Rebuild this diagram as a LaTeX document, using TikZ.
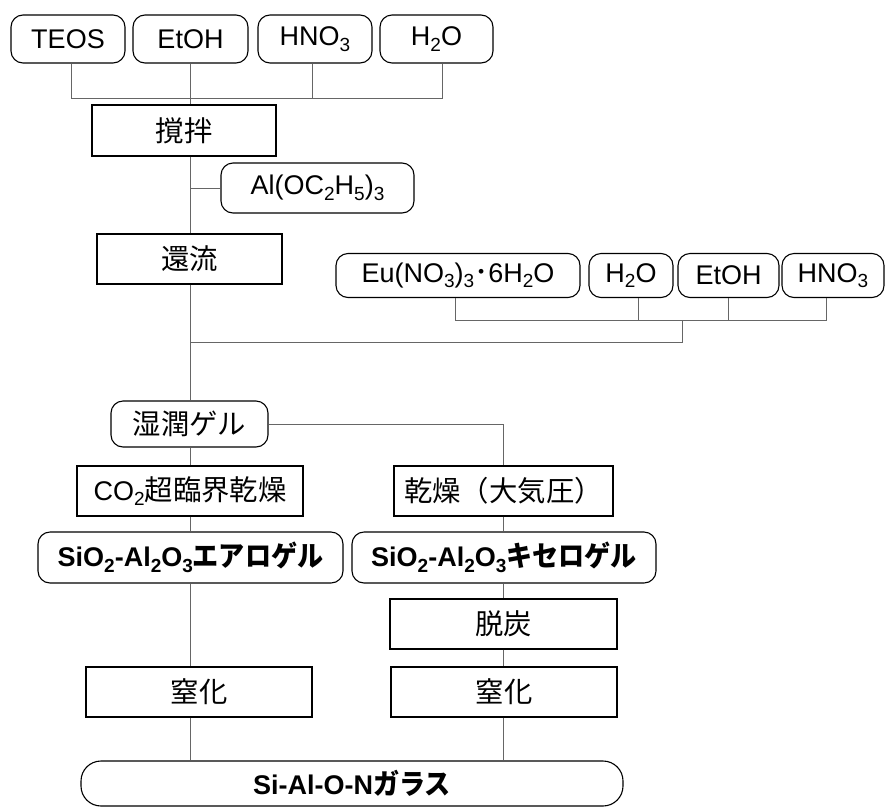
\documentclass[tikz,border=0pt]{standalone}
\usepackage{fontspec}
\usepackage{graphicx}
\setmainfont{Liberation Sans}
\newfontfamily\cjk[Scale=1.05]{Noto Sans CJK JP}
\newcommand\sbs[1]{\raisebox{-0.2em}{\fontsize{19}{19}\selectfont #1}}
\newcommand\kana[1]{\scalebox{0.92}[1]{\cjk #1}}
\begin{document}
\begin{tikzpicture}[x=1pt,y=-1pt,
  font=\fontsize{27}{31}\selectfont,
  box/.style={draw, line width=1.1pt, inner sep=0pt, text=black},
  rbox/.style={box, rounded corners=12pt},
  conn/.style={draw=black!60, line width=0.9pt},
  sz/.style 2 args={minimum width=#1pt, minimum height=#2pt}]
\useasboundingbox (0,0) rectangle (885,809);
% top row
\node[rbox, sz={114}{48}] (teos) at (68,39) {TEOS};
\node[rbox, sz={115}{48}] (etoh) at (190.5,39) {EtOH};
\node[rbox, sz={114}{48}] (hno) at (315,39) {HNO\sbs{3}};
\node[rbox, sz={113}{48}] (hto) at (436.5,39) {H\sbs{2}O};
\coordinate (bar1) at (0,98);
\path ([xshift=3pt]teos.south) coordinate (d1) ([xshift=-0.5pt]etoh.south) coordinate (d2)
      ([xshift=-3pt]hno.south) coordinate (d3) ([xshift=5.5pt]hto.south) coordinate (d4);
\node[box, sz={184}{51}] (stir) at (184,130.5) {\cjk 撹拌};
\node[rbox, sz={193}{50}] (al) at (317.5,188) {Al(OC\sbs{2}H\sbs{5})\sbs{3}};
\node[box, sz={185}{50}] (reflux) at (189.5,259) {\cjk 還流};
\draw[conn] (d1) -- (d1 |- bar1) -- (d4 |- bar1) -- (d4);
\draw[conn] (d3) -- (d3 |- bar1);
\draw[conn] (d2) -- (d2 |- stir.north);
\draw[conn] (d2 |- stir.south) -- (d2 |- reflux.north);
\draw[conn] (al.west) -- (d2 |- al.west);
% second additions
\node[rbox, sz={244}{44}] (eu) at (458,275.5) {Eu(NO\sbs{3})\sbs{3}{\cjk ･}6H\sbs{2}O};
\node[rbox, sz={84}{44}] (hto2) at (631,275.5) {H\sbs{2}O};
\node[rbox, sz={101}{44}] (etoh2) at (728.5,275.5) {EtOH};
\node[rbox, sz={102}{44}] (hno2) at (833,275.5) {HNO\sbs{3}};
\coordinate (bar2) at (0,320);
\coordinate (main2) at (0,342);
\coordinate (j2) at (682,320);
\path ([xshift=-3pt]eu.south) coordinate (e1) ([xshift=7pt]hto2.south) coordinate (e2)
      ([xshift=-0.5pt]etoh2.south) coordinate (e3) ([xshift=-7pt]hno2.south) coordinate (e4);
\draw[conn] (e1) -- (e1 |- bar2) -- (e4 |- bar2) -- (e4);
\draw[conn] (e2) -- (e2 |- bar2);
\draw[conn] (e3) -- (e3 |- bar2);
\draw[conn] (j2) -- (j2 |- main2) -- (d2 |- main2);
% gel
\node[rbox, sz={157}{46}] (wet) at (189.5,424) {\cjk 湿潤ゲル};
\draw[conn] (d2 |- reflux.south) -- (d2 |- wet.north);
\coordinate (rb) at (503,424);
\node[box, sz={226}{50}] (sc) at (190,491) {CO\sbs{2}{\cjk 超臨界乾燥}};
\node[box, sz={219}{50}] (dry) at (503.5,491) {\cjk 乾燥（大気圧）};
\node[rbox, sz={305}{51}] (aero) at (190.5,557.5) {\bfseries SiO\sbs{2}-Al\sbs{2}O\sbs{3}\kana{エアロゲル}};
\node[rbox, sz={304}{51}] (xero) at (504,557.5) {\bfseries SiO\sbs{2}-Al\sbs{2}O\sbs{3}\kana{キセロゲル}};
\node[box, sz={227}{50}] (decarb) at (503.5,624) {\cjk 脱炭};
\node[box, sz={226}{50}] (nitL) at (199,692) {\cjk 窒化};
\node[box, sz={226}{50}] (nitR) at (504,692) {\cjk 窒化};
\node[rbox, rounded corners=20pt, sz={542}{45}] (glass) at (352,783.5) {\bfseries Si-Al-O-N\kana{ガラス}};
\draw[conn] (wet.east) -- (rb) -- (rb |- dry.north);
\draw[conn] (d2 |- wet.south) -- (d2 |- sc.north);
\draw[conn] (d2 |- sc.south) -- (d2 |- aero.north);
\draw[conn] (d2 |- aero.south) -- (d2 |- nitL.north);
\draw[conn] (d2 |- nitL.south) -- (d2 |- glass.north);
\draw[conn] (rb |- dry.south) -- (rb |- xero.north);
\draw[conn] (rb |- xero.south) -- (rb |- decarb.north);
\draw[conn] (rb |- decarb.south) -- (rb |- nitR.north);
\draw[conn] (rb |- nitR.south) -- (rb |- glass.north);
\end{tikzpicture}
\end{document}
